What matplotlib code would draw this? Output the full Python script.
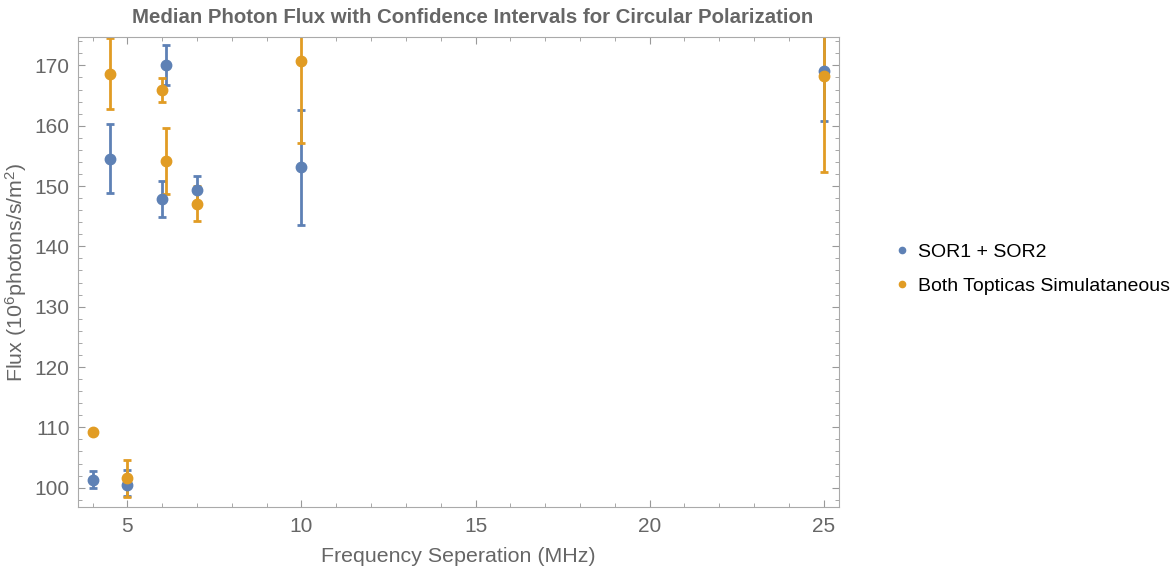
import matplotlib
matplotlib.use('Agg')
import matplotlib.pyplot as plt
import numpy as np
from matplotlib.ticker import MultipleLocator

plt.rcParams['font.family'] = ['Liberation Sans', 'DejaVu Sans']

# SOR1 + SOR2
x_sor = [4, 4.5, 5, 6, 6.1, 7, 10, 25]
y_sor = [101.3, 154.5, 100.5, 147.8, 170.0, 149.4, 153.1, 169.0]
lo_sor = [99.9, 148.8, 98.6, 144.9, 166.8, 147.4, 143.6, 160.8]
hi_sor = [102.7, 160.2, 102.9, 150.8, 173.3, 151.7, 162.6, 177.2]

# Both Topticas Simultaneous
x_top = [4, 4.5, 5, 6, 6.1, 7, 10, 25]
y_top = [109.2, 168.6, 101.6, 165.9, 154.1, 147.1, 170.8, 168.3]
lo_top = [109.2, 162.7, 98.5, 163.9, 148.6, 144.2, 157.2, 152.3]
hi_top = [109.2, 174.5, 104.6, 167.9, 159.6, 150.0, 184.4, 184.3]

blue = '#5E81B5'
orange = '#E19C24'
gray = '#666666'

fig = plt.figure(figsize=(11.73, 5.73), dpi=100)
ax = fig.add_axes([0.0665, 0.1152, 0.6487, 0.8202])

for x, y, lo, hi, c, lab in [(x_sor, y_sor, lo_sor, hi_sor, blue, 'SOR1 + SOR2'),
                             (x_top, y_top, lo_top, hi_top, orange, 'Both Topticas Simulataneous')]:
    y = np.array(y)
    err = [y - np.array(lo), np.array(hi) - y]
    ax.errorbar(x, y, yerr=err, fmt='o', color=c, ms=7.5, elinewidth=2,
                capsize=3, capthick=2, label=lab)

ax.set_xlim(3.58, 25.44)
ax.set_ylim(96.8, 174.7)
ax.xaxis.set_major_locator(MultipleLocator(5))
ax.xaxis.set_minor_locator(MultipleLocator(1))
ax.yaxis.set_major_locator(MultipleLocator(10))
ax.yaxis.set_minor_locator(MultipleLocator(2))
ax.tick_params(which='both', direction='in', top=True, right=True, colors='#999999',
               labelcolor=gray, labelsize=15)
ax.tick_params(which='major', length=5)
ax.tick_params(which='minor', length=3)
ax.tick_params(axis='x', which='both', labeltop=False, pad=7)
ax.tick_params(axis='y', which='both', labelright=False, pad=6)
for s in ax.spines.values():
    s.set_color('#aaaaaa')

ax.set_xlabel('Frequency Seperation (MHz)', fontsize=15.4, color=gray, labelpad=8)
ax.set_ylabel('Flux ($\\mathregular{10^6}$photons/s/m$\\mathregular{^2}$)', fontsize=15.4, color=gray)
ax.yaxis.set_label_coords(-0.064, 0.5)
ax.set_title('Median Photon Flux with Confidence Intervals for Circular Polarization',
             fontsize=14.7, fontweight='bold', color=gray, pad=10, x=0.518)

h, l = ax.get_legend_handles_labels()
handles = [plt.Line2D([], [], ls='', marker='o', ms=4.5, color=blue),
           plt.Line2D([], [], ls='', marker='o', ms=4.5, color=orange)]
fig.legend(handles, l, loc='center left', bbox_to_anchor=(0.746, 0.53), frameon=False,
           fontsize=14, handletextpad=0.3, labelspacing=0.85, handlelength=1.0)

fig.savefig('out.png', dpi=100)
